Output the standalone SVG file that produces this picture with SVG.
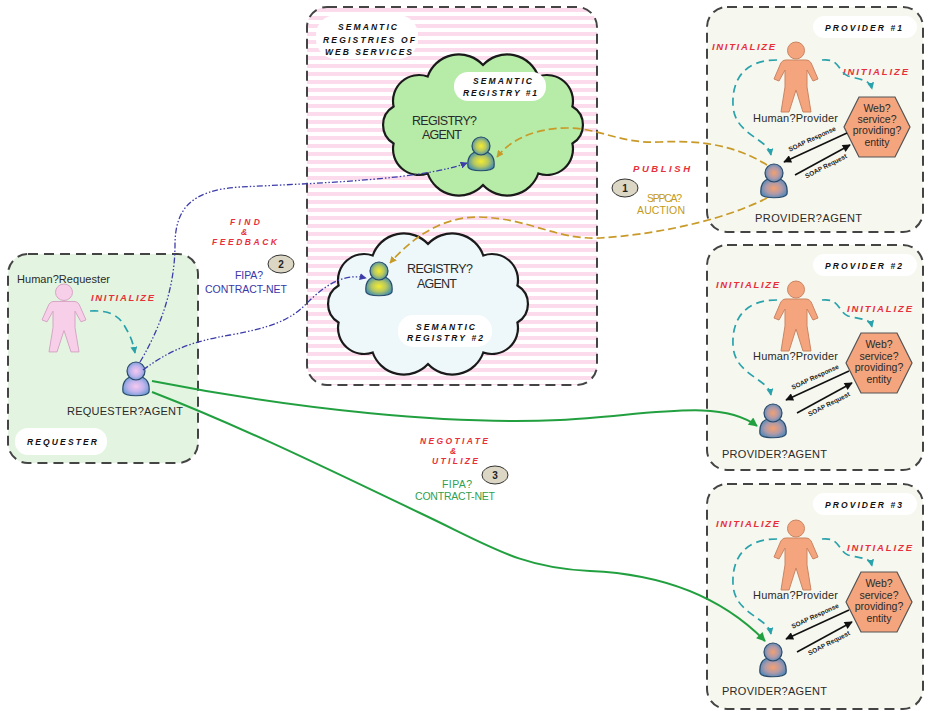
<svg xmlns="http://www.w3.org/2000/svg" width="928" height="711" viewBox="0 0 928 711">
<style>
.frame{stroke:#444;stroke-width:2;stroke-dasharray:10 6;}
.req{fill:#e3f5e1;}
.prov{fill:#f6f7ee;}
.reg{fill:url(#stripes);}
.pill{fill:#fff;}
.cloud{stroke:#1a1a1a;stroke-width:2.2;}
.ttl{font-family:"Liberation Sans",Arial,sans-serif;font-weight:bold;font-style:italic;font-size:8.5px;fill:#111;}
.red{font-family:"Liberation Sans",Arial,sans-serif;font-weight:bold;font-style:italic;font-size:9.5px;fill:#e8303a;}
.red.sm{font-size:8.5px;}
.lbl{font-family:"Liberation Sans",Arial,sans-serif;font-size:11px;fill:#2a2a2a;}
.big{font-family:"Liberation Sans",Arial,sans-serif;font-size:12.5px;fill:#2a2a2a;}
.hx{font-family:"Liberation Sans",Arial,sans-serif;font-size:10.5px;fill:#2a2a2a;text-anchor:middle;}
.soap{font-family:"Liberation Sans",Arial,sans-serif;font-size:6.5px;font-weight:bold;fill:#222;text-anchor:middle;}
.blue{font-family:"Liberation Sans",Arial,sans-serif;font-size:10.5px;fill:#3838a8;}
.gold{font-family:"Liberation Sans",Arial,sans-serif;font-size:10.5px;fill:#c49a20;}
.grn{font-family:"Liberation Sans",Arial,sans-serif;font-size:10.5px;fill:#30a050;}
.num{font-family:"Liberation Sans",Arial,sans-serif;font-size:10px;font-weight:bold;fill:#222;text-anchor:middle;}
.badge{fill:#dcd6c4;stroke:#333;stroke-width:1;}
.hex{fill:#f4a57e;stroke:#555;stroke-width:1.2;}
.hp{fill:#f4a57e;stroke:#c98563;stroke-width:1;}
.hr{fill:#f8cfe8;stroke:#d4a4c4;stroke-width:1;}
.teal{fill:none;stroke:#2aa2ac;stroke-width:1.7;stroke-dasharray:8 5;marker-end:url(#aTeal);}
.goldc{fill:none;stroke:#c89a28;stroke-width:1.7;stroke-dasharray:8 4;marker-end:url(#aGold);}
.bluec{fill:none;stroke:#3c3caa;stroke-width:1.3;stroke-dasharray:6 2 1.5 2 1.5 2;marker-end:url(#aBlue);}
.grnc{fill:none;stroke:#22a040;stroke-width:2;marker-end:url(#aGreen);}
.soapc{fill:none;stroke:#111;stroke-width:1.6;marker-end:url(#aBlack);}
.agent{stroke:#2a4a6a;stroke-width:1.2;}
</style>
<defs>
  <pattern id="stripes" width="8" height="8" patternUnits="userSpaceOnUse">
    <rect width="8" height="8" fill="#ffffff"/>
    <rect width="8" height="4" fill="#fcdcec"/>
  </pattern>
  <radialGradient id="gProv" cx="0.5" cy="0.5" r="0.55">
    <stop offset="0" stop-color="#f4a070"/>
    <stop offset="0.55" stop-color="#b09aa8"/>
    <stop offset="1" stop-color="#5288b8"/>
  </radialGradient>
  <radialGradient id="gReg" cx="0.5" cy="0.5" r="0.55">
    <stop offset="0" stop-color="#f4ec30"/>
    <stop offset="0.5" stop-color="#b8c860"/>
    <stop offset="1" stop-color="#3e8cb0"/>
  </radialGradient>
  <radialGradient id="gReq" cx="0.5" cy="0.5" r="0.55">
    <stop offset="0" stop-color="#f6c8f0"/>
    <stop offset="0.55" stop-color="#c0b4ec"/>
    <stop offset="1" stop-color="#6c9ad4"/>
  </radialGradient>
  <marker id="aTeal" viewBox="0 0 10 10" refX="9" refY="5" markerWidth="7" markerHeight="7" markerUnits="userSpaceOnUse" orient="auto"><path d="M0,0 L10,5 L0,10 Z" fill="#2aa2ac"/></marker>
  <marker id="aGold" viewBox="0 0 10 10" refX="9" refY="5" markerWidth="7" markerHeight="7" markerUnits="userSpaceOnUse" orient="auto"><path d="M0,0 L10,5 L0,10 Z" fill="#c89a28"/></marker>
  <marker id="aBlue" viewBox="0 0 10 10" refX="9" refY="5" markerWidth="7" markerHeight="7" markerUnits="userSpaceOnUse" orient="auto"><path d="M0,0 L10,5 L0,10 Z" fill="#3c3caa"/></marker>
  <marker id="aGreen" viewBox="0 0 10 10" refX="9" refY="5" markerWidth="10" markerHeight="9" markerUnits="userSpaceOnUse" orient="auto"><path d="M0,0 L10,5 L0,10 Z" fill="#22a040"/></marker>
  <marker id="aBlack" viewBox="0 0 10 10" refX="9" refY="5" markerWidth="9" markerHeight="8" markerUnits="userSpaceOnUse" orient="auto"><path d="M0,0 L10,5 L0,10 Z" fill="#111"/></marker>
  <path id="cloud" d="M -89.4,-18.5 A 26 26 0 0 1 -55.3,-48.5 A 33 33 0 0 1 0,-60 A 33 33 0 0 1 55.3,-48.5 A 26 26 0 0 1 89.4,-18.5 A 21.5 21.5 0 0 1 89.4,18.5 A 26 26 0 0 1 55.3,48.5 A 33 33 0 0 1 0,60 A 33 33 0 0 1 -55.3,48.5 A 26 26 0 0 1 -89.4,18.5 A 21.5 21.5 0 0 1 -89.4,-18.5 Z"/>
  <g id="person">
    <circle cx="23" cy="8.5" r="8.5"/>
    <path d="M13,18 L33,18 C36,18 38,20 39,23 L45,37 L40,39 L34,28 L34,45 L38,70 L30,70 L23,48 L16,70 L8,70 L12,45 L12,28 L6,39 L1,37 L7,23 C8,20 10,18 13,18 Z"/>
  </g>
  <g id="agent">
    <path d="M1,31 C0,23 3,17 9,16 C11,19 17,19 19,16 C25,17 28,23 27,31 C25,36 3,36 1,31 Z"/>
    <circle cx="14" cy="10" r="9"/>
  </g>
</defs>

<!-- requester area -->
<g id="requester">
  <rect class="frame req" x="8" y="254" width="190" height="209" rx="20"/>
  <rect class="pill" x="15" y="428" width="92" height="27" rx="13"/>
  <text class="ttl" x="27" y="445" textLength="70">REQUESTER</text>
  <text class="lbl" x="17" y="283" textLength="93">Human?Requester</text>
  <text class="red" x="91" y="301" textLength="63">INITIALIZE</text>
  <use href="#person" class="hr" transform="translate(41,284) scale(1,0.97)"/>
  <use href="#agent" class="agent" fill="url(#gReq)" transform="translate(122,361)"/>
  <text class="lbl" x="67" y="415" textLength="116">REQUESTER?AGENT</text>
</g>

<!-- semantic registries -->
<g id="registries">
  <rect class="frame reg" x="307" y="7" width="290" height="378" rx="20"/>
  <rect class="pill" x="316" y="15" width="102" height="44" rx="20"/>
  <text class="ttl" x="338" y="30" textLength="59">SEMANTIC</text>
  <text class="ttl" x="323" y="43" textLength="92">REGISTRIES OF</text>
  <text class="ttl" x="325" y="55" textLength="87">WEB SERVICES</text>
</g>

<g id="registry-1">
  <use href="#cloud" class="cloud" fill="#b6eba8" transform="translate(483,125)"/>
  <rect class="pill" x="454" y="72" width="92" height="29" rx="14"/>
  <text class="ttl" x="473" y="84" textLength="59">SEMANTIC</text>
  <text class="ttl" x="463" y="96" textLength="74">REGISTRY #1</text>
  <text class="big" x="412" y="125" textLength="65">REGISTRY?</text>
  <text class="big" x="422" y="139" textLength="40">AGENT</text>
  <use href="#agent" class="agent" fill="url(#gReg)" transform="translate(467,136)"/>
</g>

<g id="registry-2">
  <use href="#cloud" class="cloud" fill="#eef7f9" transform="translate(428,304)"/>
  <rect class="pill" x="398" y="315" width="94" height="32" rx="15"/>
  <text class="ttl" x="416" y="330" textLength="59">SEMANTIC</text>
  <text class="ttl" x="407" y="341" textLength="76">REGISTRY #2</text>
  <text class="big" x="407" y="273" textLength="66">REGISTRY?</text>
  <text class="big" x="417" y="288" textLength="40">AGENT</text>
  <use href="#agent" class="agent" fill="url(#gReg)" transform="translate(365,261)"/>
</g>

<!-- providers -->
<g id="provider-1">
  <rect class="frame prov" x="707" y="7" width="216" height="225" rx="20"/>
  <rect class="pill" x="813" y="16" width="104" height="22" rx="11"/>
  <text class="ttl" x="825" y="31" textLength="77">PROVIDER #1</text>
  <text class="red" x="712" y="50" textLength="63">INITIALIZE</text>
  <text class="red" x="843" y="75" textLength="65">INITIALIZE</text>
  <use href="#person" class="hp" transform="translate(773,42)"/>
  <text class="lbl" x="753" y="122" textLength="85">Human?Provider</text>
  <polygon class="hex" points="844,127 859,97 895,97 910,127 895,157 859,157"/>
  <text class="hx" x="877" y="112">Web?</text>
  <text class="hx" x="877" y="123">service?</text>
  <text class="hx" x="877" y="134">providing?</text>
  <text class="hx" x="877" y="146">entity</text>
  <use href="#agent" class="agent" fill="url(#gProv)" transform="translate(760,163)"/>
  <text class="lbl" x="755" y="222" textLength="107">PROVIDER?AGENT</text>
  <text class="soap" transform="translate(813,141) rotate(-25)">SOAP Response</text>
  <text class="soap" transform="translate(827,168) rotate(-27)">SOAP Request</text>
</g>

<g id="provider-2" transform="translate(0,238)">
  <rect class="frame prov" x="707" y="7" width="216" height="225" rx="20"/>
  <rect class="pill" x="813" y="16" width="104" height="22" rx="11"/>
  <text class="ttl" x="825" y="31" textLength="77">PROVIDER #2</text>
  <text class="red" x="716" y="50" textLength="63">INITIALIZE</text>
  <text class="red" x="847" y="74" textLength="65">INITIALIZE</text>
  <use href="#person" class="hp" transform="translate(773,43)"/>
  <text class="lbl" x="753" y="122" textLength="85">Human?Provider</text>
  <polygon class="hex" points="846,125 861,95 897,95 912,125 897,155 861,155"/>
  <text class="hx" x="879" y="110">Web?</text>
  <text class="hx" x="879" y="122">service?</text>
  <text class="hx" x="879" y="133">providing?</text>
  <text class="hx" x="879" y="145">entity</text>
  <use href="#agent" class="agent" fill="url(#gProv)" transform="translate(759,165)"/>
  <text class="lbl" x="722" y="220" textLength="105">PROVIDER?AGENT</text>
  <text class="soap" transform="translate(816,141) rotate(-25)">SOAP Response</text>
  <text class="soap" transform="translate(830,168) rotate(-27)">SOAP Request</text>
</g>

<g id="provider-3" transform="translate(0,477)">
  <rect class="frame prov" x="707" y="7" width="216" height="225" rx="20"/>
  <rect class="pill" x="813" y="16" width="104" height="22" rx="11"/>
  <text class="ttl" x="825" y="31" textLength="77">PROVIDER #3</text>
  <text class="red" x="716" y="50" textLength="63">INITIALIZE</text>
  <text class="red" x="847" y="74" textLength="65">INITIALIZE</text>
  <use href="#person" class="hp" transform="translate(773,43)"/>
  <text class="lbl" x="753" y="122" textLength="85">Human?Provider</text>
  <polygon class="hex" points="846,125 861,95 897,95 912,125 897,155 861,155"/>
  <text class="hx" x="879" y="110">Web?</text>
  <text class="hx" x="879" y="122">service?</text>
  <text class="hx" x="879" y="133">providing?</text>
  <text class="hx" x="879" y="145">entity</text>
  <use href="#agent" class="agent" fill="url(#gProv)" transform="translate(759,165)"/>
  <text class="lbl" x="722" y="218" textLength="105">PROVIDER?AGENT</text>
  <text class="soap" transform="translate(816,141) rotate(-25)">SOAP Response</text>
  <text class="soap" transform="translate(830,168) rotate(-27)">SOAP Request</text>
</g>

<!-- interaction labels -->
<g id="labels">
  <text class="red sm" x="230" y="225" textLength="30">FIND</text>
  <text class="red sm" x="241" y="235">&amp;</text>
  <text class="red sm" x="212" y="245" textLength="65">FEEDBACK</text>
  <ellipse class="badge" cx="281" cy="264" rx="13" ry="9"/>
  <text class="num" x="281" y="268">2</text>
  <text class="blue" x="235" y="279" textLength="28">FIPA?</text>
  <text class="blue" x="205" y="293" textLength="82">CONTRACT-NET</text>

  <text class="red" x="633" y="172" textLength="57">PUBLISH</text>
  <ellipse class="badge" cx="625" cy="188" rx="13" ry="9"/>
  <text class="num" x="625" y="192">1</text>
  <text class="gold" x="647" y="202" textLength="35">SPPCA?</text>
  <text class="gold" x="637" y="214" textLength="48">AUCTION</text>

  <text class="red sm" x="420" y="444" textLength="68">NEGOTIATE</text>
  <text class="red sm" x="450" y="454">&amp;</text>
  <text class="red sm" x="432" y="464" textLength="46">UTILIZE</text>
  <ellipse class="badge" cx="495" cy="475" rx="13" ry="9"/>
  <text class="num" x="495" y="479">3</text>
  <text class="grn" x="442" y="488" textLength="30">FIPA?</text>
  <text class="grn" x="415" y="500" textLength="80">CONTRACT-NET</text>
</g>

<!-- connectors -->
<g id="connectors">
  <path class="teal" d="M90,311 C108,310 118,315 124,325 C130,335 133,342 135,353"/>
  <g>
    <path class="teal" d="M777,60 C742,60 732,82 733,105 C734,135 768,138 771,155"/>
    <path class="teal" d="M822,60 C840,58 838,72 848,76 C862,80 870,80 872,89"/>
    <path class="soapc" d="M847,133 L784,162"/>
    <path class="soapc" d="M795,175 L850,145"/>
  </g>
  <g transform="translate(0,238)">
    <path class="teal" d="M777,62 C742,62 732,84 733,107 C734,137 768,140 771,157"/>
    <path class="teal" d="M822,62 C840,60 838,74 848,78 C862,82 870,80 872,89"/>
    <path class="soapc" d="M849,133 L786,162"/>
    <path class="soapc" d="M797,175 L852,145"/>
  </g>
  <g transform="translate(0,477)">
    <path class="teal" d="M777,62 C742,62 732,84 733,107 C734,137 768,140 771,157"/>
    <path class="teal" d="M822,62 C840,60 838,74 848,78 C862,82 870,80 872,89"/>
    <path class="soapc" d="M849,133 L786,162"/>
    <path class="soapc" d="M797,175 L852,145"/>
  </g>
  <path class="goldc" d="M767,165 C735,145 700,140 660,142 C620,144 600,128 567,128 C535,128 510,140 497,157"/>
  <path class="goldc" d="M767,198 C720,222 650,235 600,238 C555,240 530,218 478,217 C440,217 410,240 390,263"/>
  <path class="bluec" d="M140,362 C165,320 175,280 175,245 C175,210 190,190 240,187 C320,183 420,180 467,163"/>
  <path class="bluec" d="M143,370 C170,350 190,342 230,335 C270,328 290,320 305,305 C320,290 340,272 366,278"/>
  <path class="grnc" d="M152,381 C300,410 450,425 560,420 C650,415 720,398 757,426"/>
  <path class="grnc" d="M152,392 C250,430 350,480 420,513 S520,568 590,571 S720,595 765,641"/>
</g>
</svg>
